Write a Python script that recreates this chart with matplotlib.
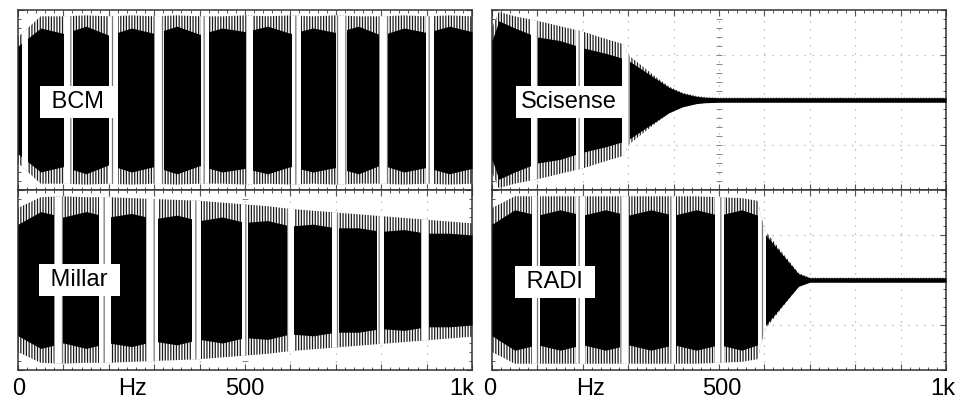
import matplotlib
matplotlib.use("Agg")
import matplotlib.pyplot as plt
import numpy as np

plt.rcParams['font.family'] = ['Liberation Sans', 'DejaVu Sans']
plt.rcParams['hatch.linewidth'] = 0.9

# 各通道数据（频率 Hz，包络幅值为半屏高度的比例）
# BCM
bcm_hz = [0, 50, 100, 150, 200, 250, 300, 350, 400, 450, 500,
          550, 600, 650, 700, 750, 800, 850, 900, 950, 1000]
bcm_outer = [0.70, 0.93, 0.93, 0.94, 0.93, 0.94, 0.93, 0.94, 0.93, 0.93, 0.94,
             0.93, 0.94, 0.93, 0.94, 0.93, 0.93, 0.94, 0.93, 0.94, 0.93]
bcm_core = [0.60, 0.80, 0.74, 0.82, 0.72, 0.80, 0.74, 0.82, 0.73, 0.80, 0.76,
            0.82, 0.74, 0.80, 0.75, 0.82, 0.72, 0.80, 0.75, 0.82, 0.76]
bcm_gaps = [(9, 22), (102, 121), (201, 220), (300, 321), (403, 421),
            (502, 517), (604, 623), (701, 724), (795, 815), (899, 916)]

# Millar
mil_hz = bcm_hz
mil_outer = [0.80, 0.92, 0.93, 0.92, 0.92, 0.91, 0.90, 0.89, 0.88, 0.86, 0.84,
             0.82, 0.79, 0.77, 0.75, 0.73, 0.71, 0.69, 0.67, 0.65, 0.63]
mil_core = [0.62, 0.76, 0.70, 0.76, 0.70, 0.74, 0.68, 0.72, 0.66, 0.70, 0.64,
            0.66, 0.60, 0.62, 0.58, 0.58, 0.54, 0.56, 0.52, 0.52, 0.50]
mil_gaps = [(79, 99), (179, 205), (282, 308), (383, 403), (494, 506),
            (593, 608), (692, 707), (791, 806), (888, 905)]

# Scisense
sci_hz = [0, 15, 50, 100, 150, 200, 250, 290, 300, 330, 360, 390, 420, 450, 470, 500, 1000]
sci_outer = [0.80, 0.98, 0.93, 0.88, 0.82, 0.76, 0.68, 0.62, 0.50, 0.38, 0.26,
             0.15, 0.08, 0.045, 0.03, 0.025, 0.025]
sci_core = [0.66, 0.88, 0.80, 0.70, 0.66, 0.58, 0.52, 0.46, 0.44, 0.34, 0.24,
            0.14, 0.075, 0.04, 0.03, 0.025, 0.025]
sci_gaps = [(86, 102), (186, 202), (286, 304)]

# RADI
rad_hz = [0, 50, 100, 150, 200, 250, 300, 350, 400, 450, 500, 550, 585, 600, 640, 675, 700, 1000]
rad_outer = [0.80, 0.93, 0.93, 0.93, 0.93, 0.93, 0.93, 0.93, 0.93, 0.93, 0.92,
             0.91, 0.88, 0.56, 0.30, 0.08, 0.025, 0.025]
rad_core = [0.62, 0.78, 0.72, 0.78, 0.72, 0.78, 0.72, 0.78, 0.72, 0.78, 0.72,
            0.78, 0.72, 0.52, 0.28, 0.07, 0.025, 0.025]
rad_gaps = [(88, 106), (186, 205), (282, 301), (390, 406), (492, 510), (586, 604)]

names = [' BCM ', ' Millar ', 'Scisense', ' RADI ']
tick_labels = ['0', 'Hz', '500', '1k']

W, H = 960, 408
fig = plt.figure(figsize=(W / 100, H / 100), dpi=100)
fig.patch.set_facecolor('white')


def make_ax(x0, y0, x1, y1):
    # 像素坐标 -> 图形比例
    ax = fig.add_axes([x0 / W, 1 - y1 / H, (x1 - x0) / W, (y1 - y0) / H])
    ax.set_xlim(0, 1000)
    ax.set_ylim(-1, 1)
    for s in ax.spines.values():
        s.set_color('#333333')
        s.set_linewidth(1.1)
    ax.set_xticks(np.arange(0, 1001, 100))
    ax.set_xticks(np.arange(0, 1001, 20), minor=True)
    ax.set_yticks(np.arange(-1, 1.01, 0.5))
    ax.set_yticks(np.arange(-1, 1.01, 0.1), minor=True)
    ax.tick_params(which='both', direction='in', top=True, bottom=True, left=True,
                   right=True, labelbottom=False, labelleft=False, color='#555555')
    ax.tick_params(which='major', length=4, width=0.8)
    ax.tick_params(which='minor', length=2.5, width=0.7)
    # 示波器刻度网格
    for gx in range(100, 1000, 100):
        ax.axvline(gx, color='#9a9a9a', lw=0.9, dashes=(0.8, 5.6), zorder=1)
    for gy in (-0.5, 0, 0.5):
        ax.axhline(gy, color='#9a9a9a', lw=0.9, dashes=(0.8, 5.6), zorder=1)
    yt = np.arange(-0.9, 0.91, 0.1)
    ax.plot(np.full_like(yt, 500), yt, ls='none', marker='_', ms=4,
            mew=0.7, color='#888888', zorder=1)
    return ax


def draw_trace(ax, hz, outer, core, gaps):
    hz = np.asarray(hz, float)
    outer = np.asarray(outer)
    core = np.asarray(core)
    # 外包络：密集竖线
    env = ax.fill_between(hz, -outer, outer, facecolor='white', edgecolor='#1a1a1a',
                          hatch='||||||', linewidth=0, zorder=2)
    # 实心部分
    ax.fill_between(hz, -core, core, color='black', linewidth=0, zorder=3)
    # 白色条纹（混叠间隙），裁剪到外包络内
    clip = env.get_paths()[0]
    for g0, g1 in gaps:
        p = ax.axvspan(g0, g1, facecolor='white', edgecolor='#777777',
                       hatch='||', linewidth=0, zorder=4)
        p.set_clip_path(clip, ax.transData)


def label(ax, txt, xf, yf):
    ax.text(xf, yf, txt, transform=ax.transAxes, ha='center', va='center',
            fontsize=17, color='black', zorder=10,
            bbox=dict(boxstyle='square,pad=0.22', fc='white', ec='none'))


ax1 = make_ax(18, 10, 472, 190)
ax2 = make_ax(18, 190, 472, 370)
ax3 = make_ax(492, 10, 946, 190)
ax4 = make_ax(492, 190, 946, 370)

draw_trace(ax1, bcm_hz, bcm_outer, bcm_core, bcm_gaps)
draw_trace(ax2, mil_hz, mil_outer, mil_core, mil_gaps)
draw_trace(ax3, sci_hz, sci_outer, sci_core, sci_gaps)
draw_trace(ax4, rad_hz, rad_outer, rad_core, rad_gaps)

label(ax1, names[0], 0.132, 0.49)
label(ax2, names[1], 0.135, 0.50)
label(ax3, names[2], 0.170, 0.49)
label(ax4, names[3], 0.138, 0.49)

# 频率轴标注
left_x = [19, 132, 245, 462]
right_x = [490, 591, 722, 943]
for xs in (left_x, right_x):
    for t, xp in zip(tick_labels, xs):
        fig.text(xp / W, 1 - 389 / H, t, ha='center', va='center', fontsize=17)

fig.savefig('out.png', dpi=100, facecolor='white')
